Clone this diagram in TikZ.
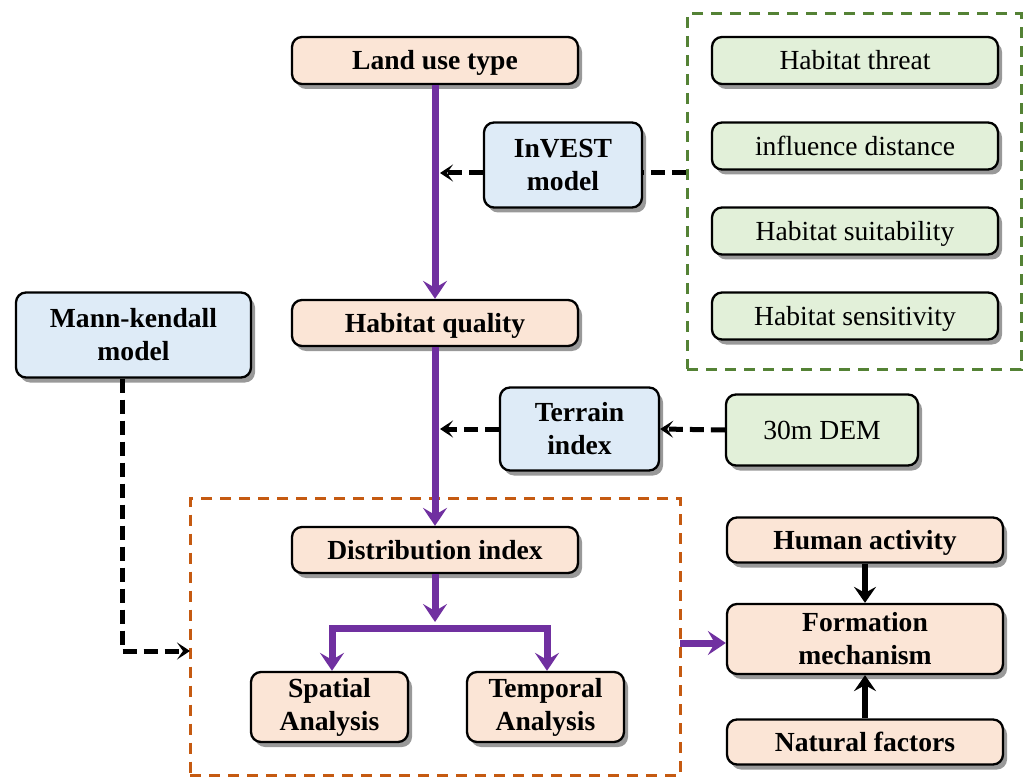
\documentclass[tikz,border=0pt]{standalone}
\usepackage{fontspec}
\setmainfont{Liberation Serif}
\usetikzlibrary{shadows,arrows.meta}
\definecolor{peach}{HTML}{FBE5D6}
\definecolor{lblue}{HTML}{DEEBF7}
\definecolor{lgreen}{HTML}{E2F0D9}
\definecolor{purp}{HTML}{7030A0}
\definecolor{orng}{HTML}{C55A11}
\definecolor{dgreen}{HTML}{548235}
\begin{document}
\begin{tikzpicture}[x=1pt,y=-1pt,
  box/.style={draw=black, line width=2.3pt, rounded corners=10pt, align=center, inner sep=0pt,
    drop shadow={shadow xshift=4pt, shadow yshift=-5pt, fill=black!40, opacity=1},
    font=\fontsize{27.6}{33}\selectfont},
  oneline/.style={text height=18.2pt, text depth=0pt},
  bbox/.style={box, font=\fontsize{27.6}{33}\selectfont\bfseries},
  pbox/.style={bbox, fill=peach},
  bluebox/.style={bbox, fill=lblue},
  gbox/.style={box, fill=lgreen},
  purpline/.style={draw=purp, line width=7pt},
  purparrow/.style={purpline, -{Stealth[length=18pt, width=24pt, inset=7pt]}},
  dasharrow/.style={draw=black, line width=5pt, dash pattern=on 14pt off 7pt, -{Stealth[length=13pt, width=17pt, inset=6pt]}},
  dashline/.style={draw=black, line width=5pt, dash pattern=on 14pt off 7pt},
  solidarrow/.style={draw=black, line width=6pt, -{Stealth[length=16pt, width=22pt, inset=6pt]}},
  grpbox/.style={dashed, line width=3pt, dash pattern=on 11pt off 8pt, inner sep=0pt}
]
\useasboundingbox (0,0) rectangle (1026,778);

% group frames
\node[grpbox, draw=dgreen, minimum width=334pt, minimum height=355pt] (ggrp) at (854,191.5) {};
\node[grpbox, draw=orng, minimum width=490pt, minimum height=277pt] (ogrp) at (435,637) {};

% main column
\node[pbox, oneline, minimum width=286pt, minimum height=47pt] (land) at (435,60.5) {Land use type};
\node[pbox, oneline, minimum width=286pt, minimum height=46pt] (hq) at (435,323) {Habitat quality};
\node[pbox, oneline, minimum width=286pt, minimum height=46pt] (dist) at (435,550) {Distribution index};
\node[pbox, minimum width=157pt, minimum height=70pt] (spatial) at (329.5,707) {Spatial\\Analysis};
\node[pbox, minimum width=157pt, minimum height=70pt] (temporal) at (545.5,707) {Temporal\\Analysis};

% models
\node[bluebox, minimum width=158pt, minimum height=85pt] (invest) at (563,165) {InVEST\\model};
\node[bluebox, minimum width=159pt, minimum height=83pt] (terrain) at (579.5,429) {Terrain\\index};
\node[bluebox, minimum width=235pt, minimum height=85pt] (mk) at (133.5,335) {Mann-kendall\\model};

% green inputs
\node[gbox, oneline, minimum width=286pt, minimum height=47pt] (threat) at (855,60.5) {Habitat threat};
\node[gbox, oneline, minimum width=286pt, minimum height=47pt] (dist2) at (855,146) {influence distance};
\node[gbox, oneline, minimum width=286pt, minimum height=47pt] (suit) at (855,231) {Habitat suitability};
\node[gbox, oneline, minimum width=286pt, minimum height=47pt] (sens) at (855,316) {Habitat sensitivity};
\node[gbox, oneline, minimum width=192pt, minimum height=71pt] (dem) at (822,430) {30m DEM};

% mechanism
\node[pbox, oneline, minimum width=276pt, minimum height=45pt] (human) at (865,540) {Human activity};
\node[pbox, minimum width=276pt, minimum height=70pt] (form) at (865,639) {Formation\\mechanism};
\node[pbox, oneline, minimum width=276pt, minimum height=45pt] (nat) at (865,742) {Natural factors};

% coordinates
\coordinate (jinv) at (440,173);
\coordinate (jter) at (440,429);
\coordinate (split) at (435,628);
\coordinate (splitend) at (435,622);
\coordinate (mkend) at (190,651);
\coordinate (frm) at (680,643);

% purple flow
\draw[purparrow] (land.south) -- (hq.north);
\draw[purparrow] (hq.south) -- (dist.north);
\draw[purparrow] (dist.south) -- (splitend);
\draw[purpline, {Stealth[length=18pt, width=24pt, inset=7pt]}-{Stealth[length=18pt, width=24pt, inset=7pt]}]
  ([xshift=2.5pt]spatial.north) |- (split) -| ([xshift=1.5pt]temporal.north);
\draw[purparrow] (frm) -- (form.west |- frm);

% dashed links
\draw[dashline] (ggrp.west |- jinv) -- (invest.east |- jinv);
\draw[dasharrow] (invest.west |- jinv) -- (jinv);
\draw[dasharrow] (dem.west) -- (terrain.east);
\draw[dasharrow] (terrain.west |- jter) -- (jter);
\draw[dasharrow] ([xshift=-11.5pt]mk.south) |- (mkend);

% black arrows
\draw[solidarrow] (human.south) -- (form.north);
\draw[solidarrow] (nat.north) -- (form.south);
\end{tikzpicture}
\end{document}
